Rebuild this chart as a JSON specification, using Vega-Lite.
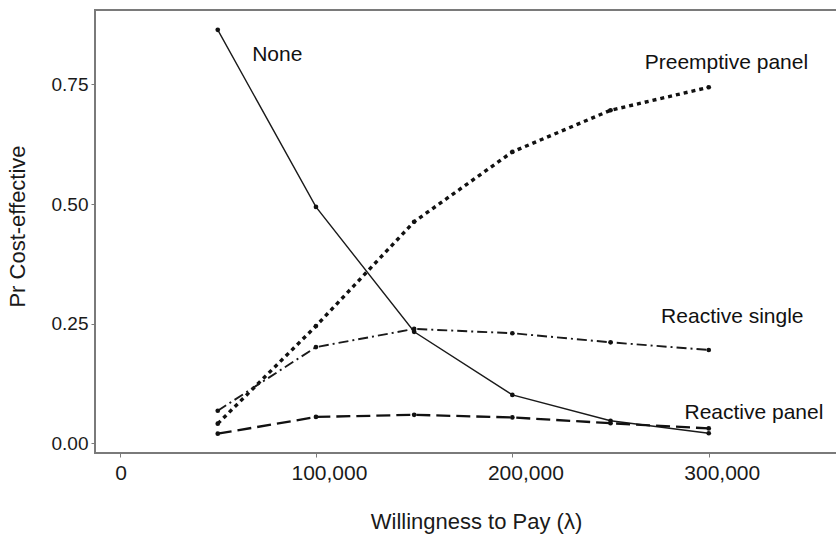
{
  "$schema": "https://vega.github.io/schema/vega-lite/v6.json",
  "width": 742,
  "height": 443,
  "autosize": {"type": "none"},
  "padding": {"left": 95, "top": 10, "right": 0, "bottom": 81},
  "background": "white",
  "config": {
    "view": {"stroke": "#7a7a7a", "strokeWidth": 2},
    "font": "Liberation Sans"
  },
  "datasets": {
    "curves": [
      {"series": "None", "wtp": 50000, "p": 0.864},
      {"series": "None", "wtp": 100000, "p": 0.494},
      {"series": "None", "wtp": 150000, "p": 0.233},
      {"series": "None", "wtp": 200000, "p": 0.101},
      {"series": "None", "wtp": 250000, "p": 0.047},
      {"series": "None", "wtp": 300000, "p": 0.021},
      {"series": "Preemptive panel", "wtp": 50000, "p": 0.041},
      {"series": "Preemptive panel", "wtp": 100000, "p": 0.245},
      {"series": "Preemptive panel", "wtp": 150000, "p": 0.463},
      {"series": "Preemptive panel", "wtp": 200000, "p": 0.609},
      {"series": "Preemptive panel", "wtp": 250000, "p": 0.696},
      {"series": "Preemptive panel", "wtp": 300000, "p": 0.744},
      {"series": "Reactive single", "wtp": 50000, "p": 0.068},
      {"series": "Reactive single", "wtp": 100000, "p": 0.201},
      {"series": "Reactive single", "wtp": 150000, "p": 0.239},
      {"series": "Reactive single", "wtp": 200000, "p": 0.230},
      {"series": "Reactive single", "wtp": 250000, "p": 0.211},
      {"series": "Reactive single", "wtp": 300000, "p": 0.195},
      {"series": "Reactive panel", "wtp": 50000, "p": 0.020},
      {"series": "Reactive panel", "wtp": 100000, "p": 0.055},
      {"series": "Reactive panel", "wtp": 150000, "p": 0.0595},
      {"series": "Reactive panel", "wtp": 200000, "p": 0.054},
      {"series": "Reactive panel", "wtp": 250000, "p": 0.042},
      {"series": "Reactive panel", "wtp": 300000, "p": 0.031}
    ],
    "labels": [
      {"label": "None", "wtp": 80300, "p": 0.811},
      {"label": "Preemptive panel", "wtp": 309000, "p": 0.795},
      {"label": "Reactive single", "wtp": 312000, "p": 0.264},
      {"label": "Reactive panel", "wtp": 323000, "p": 0.064}
    ]
  },
  "encoding": {
    "x": {
      "field": "wtp", "type": "quantitative",
      "scale": {"domain": [-12500, 365300], "nice": false, "zero": false},
      "axis": {
        "values": [0, 100000, 200000, 300000],
        "format": ",.0f",
        "domain": false,
        "grid": false,
        "tickColor": "#7a7a7a",
        "tickSize": 4,
        "labelFontSize": 21,
        "labelColor": "#1a1a1a",
        "labelPadding": 5,
        "labelOffset": {"condition": {"test": "datum.value > 0", "value": 13}, "value": 1},
        "title": "Willingness to Pay (λ)",
        "titleFontSize": 22,
        "titleFontWeight": "normal",
        "titleColor": "#1a1a1a",
        "titlePadding": 28,
        "titleX": 381
      }
    },
    "y": {
      "field": "p", "type": "quantitative",
      "scale": {"domain": [-0.0203, 0.9055], "nice": false, "zero": false},
      "axis": {
        "values": [0, 0.25, 0.5, 0.75],
        "format": ".2f",
        "domain": false,
        "grid": false,
        "tickColor": "#7a7a7a",
        "tickSize": 4,
        "labelFontSize": 19,
        "labelColor": "#1a1a1a",
        "labelPadding": 3,
        "title": "Pr Cost-effective",
        "titleFontSize": 22,
        "titleFontWeight": "normal",
        "titleColor": "#1a1a1a",
        "titlePadding": 22,
        "titleY": 216
      }
    }
  },
  "layer": [
    {
      "data": {"name": "curves"},
      "transform": [{"filter": "datum.series === 'None'"}],
      "mark": {"type": "line", "color": "#1a1a1a", "strokeWidth": 1.4}
    },
    {
      "data": {"name": "curves"},
      "transform": [{"filter": "datum.series === 'Preemptive panel'"}],
      "mark": {"type": "line", "color": "#111111", "strokeWidth": 3.4, "strokeDash": [4, 4]}
    },
    {
      "data": {"name": "curves"},
      "transform": [{"filter": "datum.series === 'Reactive single'"}],
      "mark": {"type": "line", "color": "#1a1a1a", "strokeWidth": 1.9, "strokeDash": [10, 4, 2, 4]}
    },
    {
      "data": {"name": "curves"},
      "transform": [{"filter": "datum.series === 'Reactive panel'"}],
      "mark": {"type": "line", "color": "#111111", "strokeWidth": 2.3, "strokeDash": [14, 6]}
    },
    {
      "data": {"name": "curves"},
      "mark": {"type": "circle", "color": "#111111", "opacity": 1, "size": 22}
    },
    {
      "data": {"name": "labels"},
      "mark": {"type": "text", "fontSize": 21, "align": "center", "baseline": "middle", "color": "#111111"},
      "encoding": {
        "text": {"field": "label"}
      }
    }
  ]
}
